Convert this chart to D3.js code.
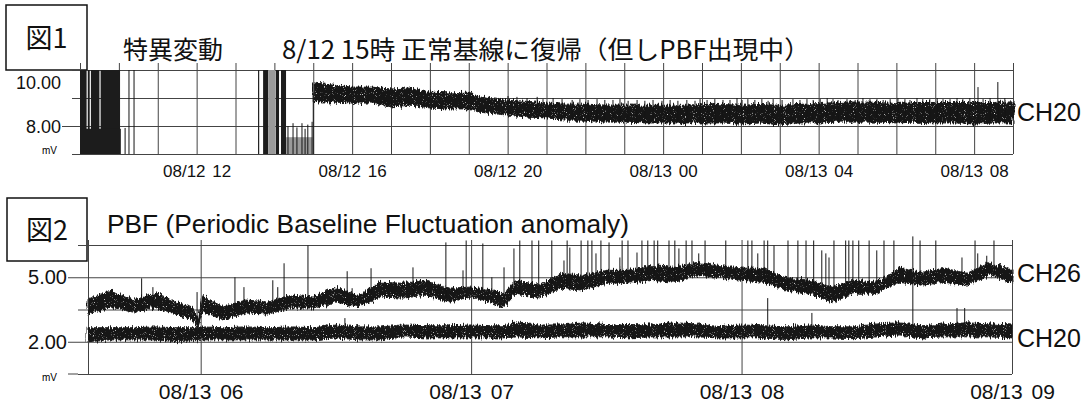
<!DOCTYPE html>
<html>
<head>
<meta charset="utf-8">
<style>
  body { margin: 0; background: #fff; }
  svg { display: block; }
  .grid line { stroke: #444; stroke-width: 1; }
  .grid path { display: none; }
  .trace { fill: #151515; stroke: #151515; stroke-width: 1; }
  .spike { stroke: #151515; stroke-width: 1; }
  .tick text { font-family: "Liberation Sans", Arial, sans-serif; fill: #111; }
  .title { font-family: "Noto Sans CJK JP", sans-serif; fill: #111; }
  .latin { font-family: "Liberation Sans", Arial, sans-serif; fill: #111; }
</style>
</head>
<body>
<svg id="chart" width="1083" height="405">
  <defs>
    <filter id="rough" x="-2%" y="-60%" width="104%" height="220%">
      <feTurbulence type="fractalNoise" baseFrequency="0.75 0.07" numOctaves="2" seed="3" result="n"/>
      <feDisplacementMap in="SourceGraphic" in2="n" scale="8" xChannelSelector="G" yChannelSelector="R" result="d"/>
      <feTurbulence type="fractalNoise" baseFrequency="1.1" numOctaves="1" seed="9" result="s"/>
      <feColorMatrix in="s" type="matrix" values="0 0 0 0 0  0 0 0 0 0  0 0 0 0 0  -6 0 0 0 4.8" result="mask"/>
      <feComposite in="d" in2="mask" operator="in"/>
    </filter>
  </defs>
</svg>
<script src="https://cdn.jsdelivr.net/npm/d3@7"></script>
<script>
// ---- 図1 : CH20, hours counted from 08/12 00:00 ----
let fig1Ticks = [12, 16, 20, 24, 28, 32]
let fig1TickLabels = ["08/12 12", "08/12 16", "08/12 20", "08/13 00", "08/13 04", "08/13 08"]
let fig1YTicks = [10, 8]
let fig1GridY = [7, 8, 9, 10]

// saturated bursts: [start h, end h, low mV, high mV]
let fig1Bursts = [[9.0, 9.17, 7, 10], [9.2, 9.25, 7, 10], [9.28, 9.5, 7, 10], [9.53, 10.03, 7, 10],
  [9.0, 10.05, 7, 7.9], [13.58, 13.61, 7, 10], [13.71, 13.84, 7, 10], [14.04, 14.12, 7, 10], [14.17, 14.3, 7, 10]]
let fig1GreyBursts = [[13.84, 14.02, 7, 10], [14.3, 14.98, 7, 7.6]]
// spikes rising from the bottom line: [h, tip mV]
let fig1LowSpikes = [[10.16, 7.93], [10.26, 10], [10.39, 10], [14.35, 8.0], [14.48, 8.1], [14.58, 7.95],
  [14.71, 8.1], [14.79, 7.9], [14.86, 8.05], [14.97, 8.15], [15.0, 9.2]]

// normal baseline band after 15:00
let fig1Hours = [15, 15.5, 16, 16.5, 17, 17.5, 18, 18.5, 19, 19.25, 19.5, 20, 20.5, 21, 21.5, 22, 22.5, 23, 23.5, 24,
  24.5, 25, 25.5, 26, 26.5, 27, 27.5, 28, 28.5, 29, 29.5, 30, 30.5, 31, 31.5, 32, 32.5, 33]
let fig1Hi = [9.54, 9.46, 9.39, 9.39, 9.32, 9.36, 9.21, 9.18, 9.21, 9.05, 8.98, 8.92, 8.88, 8.82, 8.78, 8.78, 8.75, 8.75, 8.74, 8.74,
  8.74, 8.77, 8.77, 8.74, 8.77, 8.74, 8.77, 8.8, 8.84, 8.86, 8.84, 8.8, 8.84, 8.84, 8.84, 8.84, 8.84, 8.86]
let fig1Lo = [8.86, 8.86, 8.82, 8.82, 8.68, 8.75, 8.64, 8.61, 8.61, 8.5, 8.46, 8.39, 8.32, 8.29, 8.21, 8.21, 8.14, 8.14, 8.11, 8.11,
  8.11, 8.11, 8.11, 8.07, 8.11, 8.04, 8.11, 8.11, 8.14, 8.14, 8.14, 8.11, 8.14, 8.11, 8.11, 8.07, 8.11, 8.11]
// periodic small spikes on CH20: [h, tip mV]
let fig1Spikes = [[20.01, 9.07], [20.24, 9.04], [20.5, 9.0], [20.76, 9.04], [20.91, 8.96], [21.17, 9.0], [21.4, 8.96],
  [21.66, 8.93], [21.86, 8.96], [22.07, 8.93], [22.3, 8.96], [22.5, 8.93], [22.71, 8.93], [22.89, 8.96], [23.1, 8.9],
  [23.33, 8.93], [23.53, 8.9], [23.74, 8.93], [23.97, 8.9], [24.18, 8.93], [24.38, 8.9], [24.61, 8.93], [24.82, 8.9],
  [24.95, 8.96], [25.13, 8.93], [25.33, 8.96], [25.54, 8.93], [25.72, 8.93], [25.9, 9.0], [26.03, 8.93], [26.18, 8.96],
  [26.36, 8.93], [26.54, 8.96], [26.7, 8.9], [26.83, 8.96], [27.06, 8.93], [27.34, 8.96], [27.52, 8.93], [27.7, 8.96],
  [27.86, 8.93], [28.04, 8.96], [28.22, 9.0], [28.37, 8.96], [28.5, 8.93], [28.73, 8.96], [28.94, 8.93], [29.14, 9.0],
  [29.32, 8.96], [29.5, 8.96], [29.66, 8.93], [29.84, 8.96], [30.04, 9.0], [30.22, 8.96], [30.35, 8.93], [30.53, 9.0],
  [30.68, 8.96], [30.86, 8.96], [31.05, 9.0], [31.2, 8.96], [31.38, 8.96], [31.56, 9.0], [31.71, 8.96], [31.89, 9.0],
  [32.1, 9.39], [32.23, 8.96], [32.41, 9.0], [32.61, 9.57], [32.79, 9.0]]

// ---- 図2 : PBF, minutes counted from 08/13 05:00 ----
let fig2Ticks = [60, 120, 180, 240]
let fig2TickLabels = ["08/13 06", "08/13 07", "08/13 08", "08/13 09"]
let fig2YTicks = [5, 2]
let fig2GridY = [0.5, 2, 3.5, 5, 6.5]

let fig2Minutes = [35, 40, 45, 50, 55, 58, 59.5, 60.5, 65, 70, 75, 80, 85, 90, 95, 100, 105, 110, 115, 120, 125, 127,
  130, 135, 140, 145, 150, 155, 160, 165, 170, 175, 180, 185, 190, 195, 200, 205, 210, 215, 220, 225, 230, 235, 240]
let ch26Hi = [3.98, 4.4, 3.94, 4.26, 3.8, 3.6, 3.1, 4.1, 3.62, 3.94, 3.85, 4.17, 4.08, 4.54, 4.17, 4.77, 4.72, 4.86, 4.49, 4.54,
  4.4, 4.2, 4.86, 4.63, 5.18, 5.09, 5.32, 5.32, 5.55, 5.46, 5.69, 5.55, 5.42, 5.42, 4.95, 4.86, 4.54, 4.86, 4.77, 5.42,
  5.23, 5.42, 5.18, 5.69, 5.32]
let ch26Lo = [3.29, 3.62, 3.38, 3.57, 3.25, 3.0, 2.6, 3.4, 3.02, 3.34, 3.29, 3.57, 3.57, 3.85, 3.62, 4.08, 4.03, 4.17, 3.85, 4.08,
  3.8, 3.55, 4.26, 4.03, 4.49, 4.4, 4.72, 4.72, 4.86, 4.77, 5.09, 5.0, 4.86, 4.77, 4.4, 4.26, 3.85, 4.26, 4.26, 4.77,
  4.63, 4.77, 4.63, 5.09, 4.77]
let ch20Hi = [2.65, 2.65, 2.65, 2.69, 2.65, 2.65, 2.65, 2.69, 2.65, 2.69, 2.65, 2.69, 2.65, 2.78, 2.69, 2.69, 2.78, 2.74, 2.74, 2.78,
  2.74, 2.74, 2.88, 2.78, 2.78, 2.88, 2.8, 2.8, 2.78, 2.88, 2.83, 2.7, 2.78, 2.74, 2.69, 2.78, 2.7, 2.69, 2.83, 2.88,
  2.74, 2.83, 2.88, 2.83, 2.78]
let ch20Lo = [2.0, 2.09, 2.09, 2.09, 2.0, 2.05, 2.05, 2.09, 2.09, 2.09, 2.09, 2.09, 2.09, 2.18, 2.09, 2.09, 2.23, 2.18, 2.18, 2.18,
  2.18, 2.18, 2.23, 2.18, 2.23, 2.23, 2.23, 2.18, 2.23, 2.23, 2.23, 2.18, 2.18, 2.18, 2.09, 2.18, 2.18, 2.14, 2.23, 2.32,
  2.18, 2.23, 2.23, 2.23, 2.18]
// PBF spikes on CH26: [minute, tip mV]
let ch26Spikes = [[46.9, 4.95], [49.4, 4.54], [59.2, 4.31], [67.6, 5.0], [69.6, 4.54], [76.0, 4.86], [77.1, 4.54],
  [78.5, 5.65], [83.8, 6.48], [92.5, 5.28], [93.6, 4.49], [97.8, 5.42], [107.1, 5.46], [114.4, 6.62], [118.2, 5.32],
  [118.9, 6.71], [122.6, 6.57], [124.6, 5.0], [127.3, 5.46], [129.5, 6.34], [130.8, 6.71], [133.5, 6.71], [135.0, 6.71],
  [137.9, 6.71], [140.6, 5.78], [141.3, 6.71], [141.9, 6.38], [144.4, 6.71], [145.9, 6.71], [146.8, 6.71], [147.7, 6.11],
  [148.8, 6.71], [150.6, 6.62], [153.0, 5.92], [153.5, 6.71], [154.8, 6.71], [156.8, 6.15], [157.9, 6.71], [159.2, 6.71],
  [160.6, 6.71], [161.4, 6.71], [163.9, 6.71], [165.2, 6.71], [166.1, 6.34], [167.7, 6.71], [169.0, 6.71], [170.5, 6.11],
  [171.9, 6.71], [176.5, 6.71], [181.4, 6.71], [182.3, 6.71], [183.6, 6.11], [185.0, 6.71], [185.8, 6.71], [187.2, 6.48],
  [190.3, 6.71], [192.5, 6.71], [194.3, 6.71], [196.0, 6.71], [197.8, 6.25], [198.7, 6.11], [199.4, 5.92], [200.5, 6.71],
  [203.1, 6.71], [203.8, 6.71], [204.7, 6.71], [206.0, 6.71], [208.3, 6.71], [210.0, 6.25], [211.6, 6.71], [213.8, 6.71],
  [219.6, 6.71], [223.1, 6.71], [228.9, 5.92], [231.8, 6.71], [232.4, 6.11], [234.4, 6.0], [236.0, 6.71]]
let ch20Spikes = [[92.0, 3.1], [185.8, 4.03], [195.6, 3.34], [218.0, 6.9], [227.8, 3.57], [229.5, 3.57]]

// ---- drawing ----
let svg = d3.select("#chart")

let x1 = d3.scaleLinear().domain([9, 33]).range([80, 1013])
let y1 = d3.scaleLinear().domain([7, 10]).range([154, 70])
let x2 = d3.scaleLinear().domain([35, 240]).range([88, 1012])
let y2 = d3.scaleLinear().domain([0.5, 6.5]).range([374, 245])

// title boxes
function titleBox(x, y, w, h, label) {
  svg.append("rect").attr("x", x).attr("y", y).attr("width", w).attr("height", h)
    .attr("fill", "none").attr("stroke", "#111").attr("stroke-width", 1.5)
  svg.append("text").attr("class", "title").attr("x", x + w / 2).attr("y", y + h / 2 + 10)
    .attr("text-anchor", "middle").attr("font-size", 27).text(label)
}
titleBox(6, 5, 81, 65, "図1")
titleBox(7, 198, 80, 63, "図2")

svg.append("text").attr("class", "title").attr("x", 123).attr("y", 59).attr("font-size", 25)
  .text("特異変動")
svg.append("text").attr("class", "title").attr("x", 282).attr("y", 59).attr("font-size", 25)
  .attr("textLength", 528).attr("lengthAdjust", "spacingAndGlyphs")
  .text("8/12 15時 正常基線に復帰（但しPBF出現中）")
svg.append("text").attr("class", "latin").attr("x", 107).attr("y", 233).attr("font-size", 25)
  .attr("textLength", 522).attr("lengthAdjust", "spacingAndGlyphs")
  .text("PBF (Periodic Baseline Fluctuation anomaly)")

// ---------- 図1 ----------
let g1 = svg.append("g")

g1.append("g").attr("class", "grid").attr("transform", "translate(72,0)")
  .call(d3.axisLeft(y1).tickValues(fig1GridY).tickSize(-(x1(33) - 72)).tickFormat(""))
g1.append("g").attr("class", "grid").attr("transform", "translate(0,63)")
  .call(d3.axisTop(x1).tickValues(d3.range(9, 34)).tickSize(-(y1(7) - 63)).tickFormat(""))

let yAx1 = g1.append("g").attr("transform", "translate(72,0)")
  .call(d3.axisLeft(y1).tickValues(fig1YTicks).tickFormat(d3.format(".2f")).tickSize(10).tickPadding(1))
yAx1.select(".domain").remove()
yAx1.selectAll(".tick line").attr("stroke", "#444").filter(d => d === 10).remove()
yAx1.selectAll(".tick text").attr("font-size", 18)
  .attr("dy", d => d === 10 ? "1.0em" : "0.36em")

let xAx1 = g1.append("g").attr("transform", "translate(0," + y1(7) + ")")
  .call(d3.axisBottom(x1).tickValues(fig1Ticks).tickFormat((d, i) => fig1TickLabels[i]).tickSize(0).tickPadding(11))
xAx1.select(".domain").remove()
xAx1.selectAll(".tick text").attr("font-size", 17).attr("word-spacing", 2)

g1.append("text").attr("x", 42).attr("y", 154).attr("font-size", 10)
  .attr("font-family", "Liberation Sans, sans-serif").text("mV")

// bursts
g1.selectAll(".burst").data(fig1Bursts).join("rect")
  .attr("x", d => x1(d[0])).attr("width", d => x1(d[1]) - x1(d[0]))
  .attr("y", d => y1(d[3])).attr("height", d => y1(d[2]) - y1(d[3]))
  .attr("fill", "#1c1c1c")
g1.selectAll(".greyBurst").data(fig1GreyBursts).join("rect")
  .attr("x", d => x1(d[0])).attr("width", d => x1(d[1]) - x1(d[0]))
  .attr("y", d => y1(d[3])).attr("height", d => y1(d[2]) - y1(d[3]))
  .attr("fill", "#9a9a9a")
g1.selectAll(".lowSpike").data(fig1LowSpikes).join("line").attr("class", "spike")
  .attr("x1", d => x1(d[0])).attr("x2", d => x1(d[0]))
  .attr("y1", y1(7)).attr("y2", d => y1(d[1]))

// baseline band
let area1 = d3.area()
  .x((d, i) => x1(fig1Hours[i]))
  .y0((d, i) => y1(fig1Lo[i]))
  .y1((d, i) => y1(fig1Hi[i]))
g1.append("path").datum(fig1Hours).attr("class", "trace").attr("filter", "url(#rough)").attr("d", area1)

let lo1At = d3.scaleLinear().domain(fig1Hours).range(fig1Lo)
g1.selectAll(".spk").data(fig1Spikes).join("line").attr("class", "spike")
  .attr("x1", d => x1(d[0])).attr("x2", d => x1(d[0]))
  .attr("y1", d => y1(lo1At(d[0]))).attr("y2", d => y1(d[1]))

g1.append("text").attr("class", "latin").attr("x", 1017).attr("y", 121).attr("font-size", 25).text("CH20")

// ---------- 図2 ----------
let g2 = svg.append("g")

g2.append("g").attr("class", "grid").attr("transform", "translate(78,0)")
  .call(d3.axisLeft(y2).tickValues(fig2GridY).tickSize(-(x2(240) - 78)).tickFormat(""))
g2.append("line").attr("x1", 68).attr("x2", 78).attr("y1", y2(0.5)).attr("y2", y2(0.5)).attr("stroke", "#444")
g2.append("g").attr("class", "grid").attr("transform", "translate(0,240)")
  .call(d3.axisTop(x2).tickValues([35].concat(fig2Ticks)).tickSize(-(y2(0.5) - 240)).tickFormat(""))

let yAx2 = g2.append("g").attr("transform", "translate(78,0)")
  .call(d3.axisLeft(y2).tickValues(fig2YTicks).tickFormat(d3.format(".2f")).tickSize(10).tickPadding(1))
yAx2.select(".domain").remove()
yAx2.selectAll(".tick line").attr("stroke", "#444")
yAx2.selectAll(".tick text").attr("font-size", 20)

let xAx2 = g2.append("g").attr("transform", "translate(0," + y2(0.5) + ")")
  .call(d3.axisBottom(x2).tickValues(fig2Ticks).tickFormat((d, i) => fig2TickLabels[i]).tickSize(0).tickPadding(10))
xAx2.select(".domain").remove()
xAx2.selectAll(".tick text").attr("font-size", 21).attr("word-spacing", 3)

g2.append("text").attr("x", 42).attr("y", 381).attr("font-size", 10)
  .attr("font-family", "Liberation Sans, sans-serif").text("mV")

function band(hi, lo) {
  return d3.area()
    .x((d, i) => x2(fig2Minutes[i]))
    .y0((d, i) => y2(lo[i]))
    .y1((d, i) => y2(hi[i]))
}
g2.append("path").datum(fig2Minutes).attr("class", "trace").attr("filter", "url(#rough)").attr("d", band(ch20Hi, ch20Lo))
g2.append("path").datum(fig2Minutes).attr("class", "trace").attr("filter", "url(#rough)").attr("d", band(ch26Hi, ch26Lo))

let lo26At = d3.scaleLinear().domain(fig2Minutes).range(ch26Lo)
let lo20At = d3.scaleLinear().domain(fig2Minutes).range(ch20Lo)
g2.selectAll(".spk26").data(ch26Spikes).join("line").attr("class", "spike")
  .attr("x1", d => x2(d[0])).attr("x2", d => x2(d[0]))
  .attr("y1", d => y2(lo26At(d[0]))).attr("y2", d => y2(d[1]))
g2.selectAll(".spk20").data(ch20Spikes).join("line").attr("class", "spike")
  .attr("x1", d => x2(d[0])).attr("x2", d => x2(d[0]))
  .attr("y1", d => y2(lo20At(d[0]))).attr("y2", d => y2(d[1]))
  .attr("stroke-width", d => d[1] > 6 ? 2 : 1)

g2.append("text").attr("class", "latin").attr("x", 1017).attr("y", 282).attr("font-size", 25).text("CH26")
g2.append("text").attr("class", "latin").attr("x", 1017).attr("y", 347).attr("font-size", 25).text("CH20")
</script>
</body>
</html>
